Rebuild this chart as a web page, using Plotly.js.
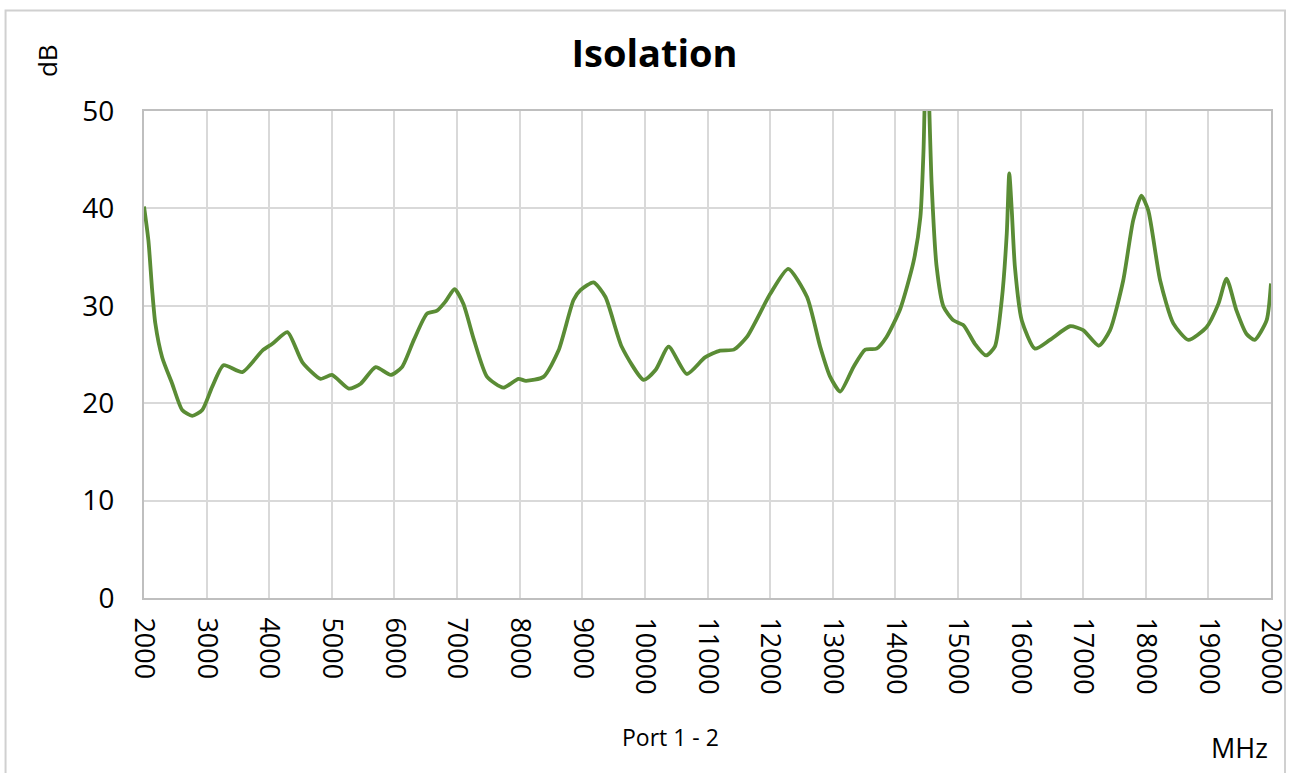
<!DOCTYPE html>
<html>
<head>
<meta charset="utf-8">
<script src="https://cdn.plot.ly/plotly-3.0.1.min.js"></script>
<style>
  body { margin: 0; background: #fff; }
  #plotArea { width: 1291px; height: 773px; }
</style>
</head>
<body>
<div id="plotArea"></div>
<script>
// Isolation, port 1-2 (MHz vs dB)
var freq = [2000, 2070, 2130, 2180, 2290, 2450, 2610, 2770, 2930, 3090, 3270, 3570, 3890, 4050, 4290, 4530, 4820, 5000,
    5270, 5460, 5700, 5940, 6120, 6310, 6520, 6680, 6810, 6960, 7100, 7270, 7480, 7740, 7980, 8100,
    8380, 8620, 8860, 8970, 9180, 9370, 9630, 9980, 10170, 10380, 10670, 10960, 11200,
    11420, 11630, 12000, 12290, 12590, 12800, 12960, 13120, 13330, 13520, 13700, 13860, 14080,
    14290, 14400, 14450, 14500, 14580, 14660, 14770, 14930, 15090, 15270, 15450, 15590,
    15700, 15780, 15820, 15860, 15910, 16020, 16230, 16470, 16790, 17000, 17250,
    17430, 17640, 17800, 17930, 18040, 18230, 18440, 18680, 18970, 19160, 19290, 19450, 19610, 19740, 19930, 20000];

var iso = [40.2, 36.7, 31.6, 28.2, 24.7, 22.0, 19.3, 18.7, 19.3, 21.7, 23.9, 23.2, 25.4, 26.1, 27.3, 24.2, 22.5, 22.9,
    21.5, 22.0, 23.7, 22.9, 23.7, 26.5, 29.2, 29.5, 30.4, 31.7, 30.2, 26.5, 22.7, 21.6, 22.5, 22.3,
    22.7, 25.4, 30.6, 31.6, 32.4, 30.9, 25.8, 22.4, 23.4, 25.8, 23.0, 24.7, 25.4,
    25.5, 26.8, 31.2, 33.8, 30.9, 25.8, 22.7, 21.2, 23.7, 25.5, 25.6, 26.8, 29.7,
    34.5, 39.1, 45.9, 58, 42.5, 34.0, 29.9, 28.5, 28.0, 26.1, 24.9, 25.8,
    30.6, 37.4, 43.6, 39.8, 34.0, 28.5, 25.6, 26.5, 27.9, 27.5, 25.9,
    27.5, 32.6, 38.8, 41.3, 39.8, 32.6, 28.2, 26.5, 27.8, 30.2, 32.8, 29.5, 27.1, 26.5, 28.5, 32.3];

var tickVals = [2000, 3000, 4000, 5000, 6000, 7000, 8000, 9000, 10000, 11000, 12000, 13000, 14000, 15000, 16000, 17000, 18000, 19000, 20000];

var isoTrace = {
    x: freq,
    y: iso,
    type: "scatter",
    mode: "lines",
    line: {color: "#5a8c35", width: 3.8, shape: "spline", smoothing: 0.6},
    hoverinfo: "x+y"
};

var fontFam = "Open Sans, Liberation Sans, sans-serif";

var layout = {
    width: 1291,
    height: 773,
    margin: {l: 143.5, r: 20, t: 110.5, b: 175},
    paper_bgcolor: "#ffffff",
    plot_bgcolor: "#ffffff",
    showlegend: false,
    font: {family: fontFam, color: "#000000"},
    title: {
        text: "<b>Isolation</b>",
        font: {family: fontFam, size: 38, color: "#000000"},
        x: 0.507, xref: "container", xanchor: "center",
        y: 0.931, yref: "container", yanchor: "middle"
    },
    xaxis: {
        range: [1999.5, 20000.5],
        tickvals: tickVals,
        ticktext: tickVals.map(String),
        tickangle: 90,
        ticklabelstandoff: 12,
        ticklabeloverflow: "allow",
        tickfont: {family: fontFam, size: 27, color: "#000000"},
        showgrid: true,
        gridcolor: "#d9d9d9",
        gridwidth: 2,
        zeroline: false,
        showline: true,
        linecolor: "#bfbfbf",
        linewidth: 2,
        mirror: true,
        ticks: ""
    },
    yaxis: {
        range: [0, 50],
        dtick: 10,
        ticklabelstandoff: 22,
        tickfont: {family: fontFam, size: 28, color: "#000000"},
        showgrid: true,
        gridcolor: "#d9d9d9",
        gridwidth: 2,
        zeroline: false,
        showline: true,
        linecolor: "#bfbfbf",
        linewidth: 2,
        mirror: true,
        ticks: ""
    },
    annotations: [
        {text: "Port 1 - 2", xref: "paper", yref: "paper", x: (670 - 143.5) / 1127.5, y: (598 - 737) / 487.5,
         xanchor: "center", yanchor: "middle", showarrow: false, font: {family: fontFam, size: 23, color: "#000000"}},
        {text: "MHz", xref: "paper", yref: "paper", x: (1239 - 143.5) / 1127.5, y: (598 - 748) / 487.5,
         xanchor: "center", yanchor: "middle", showarrow: false, font: {family: fontFam, size: 27, color: "#000000"}},
        {text: "dB", xref: "paper", yref: "paper", x: (46 - 143.5) / 1127.5, y: (598 - 60) / 487.5,
         xanchor: "center", yanchor: "middle", textangle: -90, showarrow: false, font: {family: fontFam, size: 26, color: "#000000"}}
    ],
    shapes: [
        {type: "rect", xref: "paper", yref: "paper",
         x0: (5 - 143.5) / 1127.5, x1: (1285 - 143.5) / 1127.5,
         y0: (598 - 790) / 487.5, y1: (598 - 10) / 487.5,
         line: {color: "#d0d0d0", width: 2}, fillcolor: "rgba(0,0,0,0)", layer: "below"}
    ]
};

Plotly.newPlot("plotArea", [isoTrace], layout, {displayModeBar: false, responsive: false});
</script>
</body>
</html>
